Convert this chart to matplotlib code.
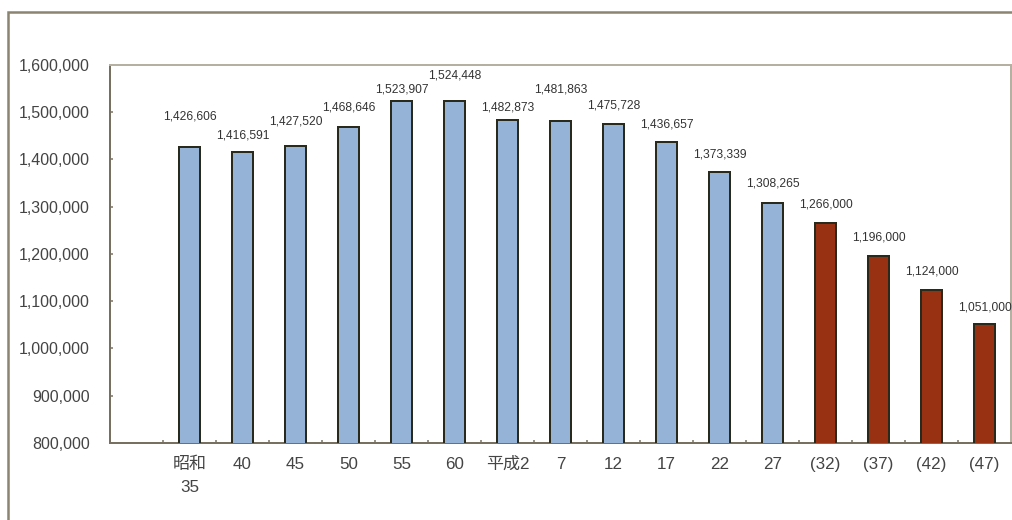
import matplotlib.pyplot as plt
from matplotlib.patches import Rectangle

# population by census year (showa 35 .. heisei 27), then projections
years = ['昭和\n35', '40', '45', '50', '55', '60', '平成2', '7', '12', '17',
         '22', '27', '(32)', '(37)', '(42)', '(47)']
population = [1426606, 1416591, 1427520, 1468646, 1523907, 1524448, 1482873,
              1481863, 1475728, 1436657, 1373339, 1308265, 1266000, 1196000,
              1124000, 1051000]
projected = [False] * 12 + [True] * 4

# label heights above each bar (points), staggered like the original
label_offsets = [30, 16, 25, 20, 11, 25, 13, 31, 18, 18, 18, 19, 18, 18, 18, 17]

plt.rcParams['font.family'] = ['Liberation Sans', 'Noto Sans CJK JP']

fig = plt.figure(figsize=(1012 / 72, 520 / 72), dpi=72)
ax = fig.add_axes([110 / 1012, 77 / 520, 901 / 1012, 378 / 520])

# outer frame of the picture
frame_col = '#8a8470'
fig.patches.append(Rectangle((8 / 1012, -0.1), 2, (520 - 12) / 520 + 0.1,
                             transform=fig.transFigure, fill=False,
                             edgecolor=frame_col, linewidth=2.5))

pos = list(range(1, len(years) + 1))
colors = ['#983012' if p else '#95b3d7' for p in projected]
ax.bar(pos, population, width=0.4, color=colors, edgecolor='#2a2a1c',
       linewidth=2, zorder=3)

for x, v, off in zip(pos, population, label_offsets):
    ax.annotate(f'{v:,}', (x, v), xytext=(0, off), textcoords='offset points',
                ha='center', va='center', fontsize=12, color='#333333',
                annotation_clip=False)

ax.set_xlim(-0.5, 16.5)
ax.set_ylim(800000, 1600000)
ax.set_yticks(range(800000, 1600001, 100000))
ax.set_yticklabels([f'{t:,}' for t in range(800000, 1600001, 100000)])
ax.set_xticks(pos)
ax.set_xticklabels(years, linespacing=1.65)
ax.set_xticks([p - 0.5 for p in pos], minor=True)

ax.tick_params(axis='y', direction='in', length=3, width=1.5, color='#777060',
               pad=20, labelsize=16, labelcolor='#444444')
ax.tick_params(axis='x', which='major', length=0, pad=14, labelsize=17,
               labelcolor='#444444')
ax.tick_params(axis='x', which='minor', direction='in', length=3, width=1.5,
               color='#777060')

for side in ['left', 'bottom']:
    ax.spines[side].set_color('#777060')
    ax.spines[side].set_linewidth(2)
for side in ['top', 'right']:
    ax.spines[side].set_color('#b5b0a2')
    ax.spines[side].set_linewidth(2)

fig.savefig('out.png', dpi=72)
